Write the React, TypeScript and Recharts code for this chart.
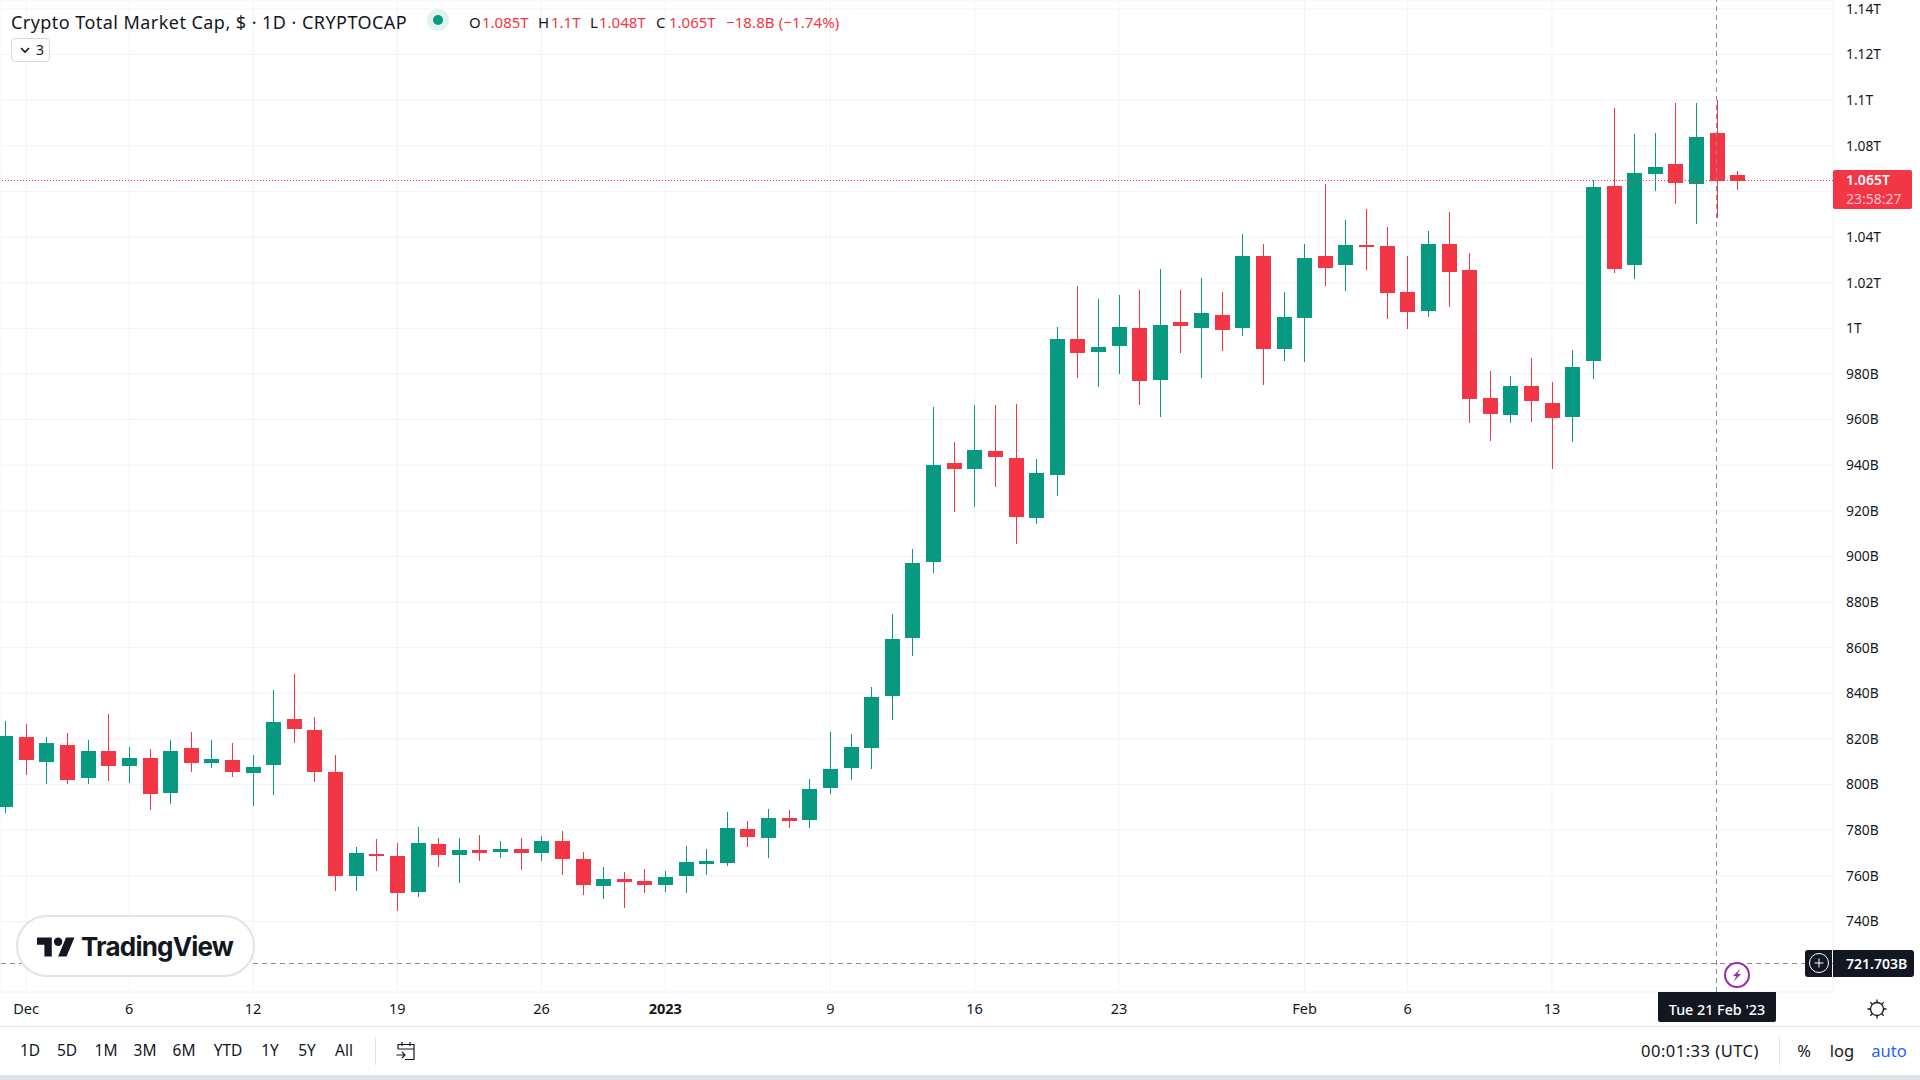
import React from "react";
import {
  Bar,
  CartesianGrid,
  ComposedChart,
  ReferenceLine,
  XAxis,
  YAxis,
} from "recharts";

// values in billions of USD, one entry per day from 30 Nov 2022 to 22 Feb 2023
const opens = [
  790.2, 820.8, 809.9, 817.3, 802.9, 814.7, 808.1, 811.6, 796.3, 816.0, 809.4, 810.8, 805.1, 808.6, 828.7,
  823.9, 805.5, 759.9, 769.6, 768.7, 752.9, 773.9, 769.1, 771.3, 770.4, 771.7, 770.0, 775.3, 767.4, 755.5,
  758.6, 757.7, 756.0, 759.9, 765.2, 765.6, 780.5, 776.6, 785.3, 784.5, 798.5, 807.3, 816.0, 838.8, 864.2,
  897.6, 940.9, 938.3, 946.2, 943.1, 916.8, 935.7, 995.3, 989.6, 992.2, 1000.1, 977.3, 1002.8, 1000.1, 1005.8,
  1000.1, 1031.7, 990.9, 1004.5, 1031.7, 1027.8, 1036.3, 1036.1, 1015.9, 1007.6, 1036.9, 1025.6, 969.5, 962.0, 974.7,
  967.3, 961.1, 985.7, 1062.4, 1027.7, 1067.6, 1072.0, 1063.2, 1085.6, 1067.2,
];
const closes = [
  821.3, 810.8, 818.2, 802.0, 814.7, 808.1, 811.6, 795.9, 814.7, 809.4, 811.2, 805.5, 807.7, 827.4, 824.4,
  805.5, 759.9, 770.0, 768.7, 752.5, 774.4, 769.1, 771.3, 770.0, 771.7, 770.0, 775.3, 767.4, 756.0, 758.6,
  757.3, 756.0, 759.5, 766.0, 766.5, 781.0, 777.0, 785.3, 784.0, 798.1, 806.8, 816.5, 838.4, 863.8, 897.1,
  940.1, 938.3, 946.7, 943.6, 917.3, 936.6, 995.3, 989.2, 991.8, 1000.6, 976.9, 1001.4, 1001.0, 1006.7, 999.3,
  1031.7, 990.9, 1005.0, 1030.8, 1026.4, 1036.5, 1035.7, 1015.6, 1007.1, 1036.9, 1024.7, 969.0, 962.4, 974.7, 968.1,
  960.7, 983.0, 1061.9, 1026.0, 1068.1, 1070.7, 1063.7, 1083.9, 1064.6, 1064.6,
];
const highs = [
  827.9, 826.5, 820.8, 822.6, 819.5, 830.9, 816.5, 815.6, 819.5, 823.0, 819.5, 818.2, 813.0, 841.4, 848.5,
  829.6, 813.0, 772.6, 776.1, 774.4, 781.4, 776.6, 776.6, 777.9, 775.3, 776.6, 777.5, 779.6, 770.4, 763.9,
  761.7, 763.0, 762.1, 773.1, 771.7, 788.0, 784.0, 789.3, 788.8, 802.4, 823.0, 822.2, 842.8, 874.8, 903.3,
  965.5, 950.2, 966.4, 966.4, 966.8, 942.7, 1000.6, 1018.5, 1012.8, 1014.6, 1016.8, 1026.0, 1016.8, 1022.1, 1015.9,
  1041.3, 1037.0, 1015.9, 1037.0, 1063.4, 1047.3, 1052.1, 1044.4, 1031.7, 1042.6, 1051.0, 1033.0, 981.3, 979.1, 987.0,
  976.5, 990.5, 1064.9, 1096.6, 1085.2, 1085.6, 1098.8, 1098.8, 1100.0, 1068.9,
];
const lows = [
  787.5, 804.2, 800.2, 800.2, 800.2, 801.6, 800.7, 788.8, 791.5, 805.5, 807.3, 803.3, 790.6, 795.4, 818.2,
  801.1, 753.3, 753.3, 762.1, 744.6, 750.7, 763.9, 756.8, 766.5, 767.8, 762.5, 766.5, 760.4, 751.6, 749.8,
  745.9, 752.5, 752.9, 752.5, 760.4, 764.3, 772.6, 767.8, 781.0, 781.0, 795.9, 802.0, 806.8, 828.3, 856.2,
  892.7, 919.5, 921.7, 930.4, 905.4, 914.2, 926.5, 978.2, 974.3, 980.0, 966.4, 961.1, 989.2, 978.2, 990.1,
  996.6, 975.1, 985.7, 985.2, 1018.5, 1016.3, 1025.6, 1004.1, 999.7, 1005.0, 1009.3, 958.5, 950.6, 958.5, 958.9,
  938.3, 950.2, 977.8, 1024.2, 1021.6, 1060.2, 1054.5, 1045.7, 1048.4, 1060.6,
];

const priceTicks = [
  740, 760, 780, 800, 820, 840, 860, 880, 900, 920, 940, 960, 980, 1000, 1020, 1040, 1060, 1080, 1100, 1120, 1140,
];
const priceLabels = [
  "740B", "760B", "780B", "800B", "820B", "840B", "860B", "880B", "900B", "920B", "940B", "960B", "980B",
  "1T", "1.02T", "1.04T", "", "1.08T", "1.1T", "1.12T", "1.14T",
];
const dayTicks = [1, 6, 12, 19, 26, 32, 40, 47, 54, 63, 68, 75];
const dayLabels = ["Dec", "6", "12", "19", "26", "2023", "9", "16", "23", "Feb", "6", "13"];
const rangeButtons = ["1D", "5D", "1M", "3M", "6M", "YTD", "1Y", "5Y", "All"];
const rangeCenters = [30, 67, 106, 145, 184, 228, 270, 307, 344];

const lastClose = 1064.8;
const crosshairDay = 83;
const crosshairPrice = 721.703;

const UP = "#089981";
const DOWN = "#F23645";
const INK = "#131722";
const FONT = "'Noto Sans', sans-serif";

const rows = opens.map((o, i) => ({
  day: i,
  body: [Math.min(o, closes[i]), Math.max(o, closes[i])],
  wick: [lows[i], highs[i]],
  up: closes[i] >= o,
}));

// bars snapped to whole pixels so bodies and wicks stay sharp like the original canvas
function Candle({ x, y, width, height, payload }: any) {
  const top = Math.round(y);
  const bottom = Math.round(y + height);
  return (
    <rect
      x={Math.round(x)}
      y={top}
      width={width}
      height={Math.max(bottom - top, 1)}
      fill={payload.up ? UP : DOWN}
    />
  );
}

// reference lines snapped to the pixel centre too, otherwise the dashes wash out
function CrispLine({ x1, y1, x2, y2, stroke, strokeDasharray }: any) {
  const snap = (v: number) => Math.floor(v) + 0.5;
  return (
    <line
      x1={x1 === x2 ? snap(x1) : x1}
      x2={x1 === x2 ? snap(x2) : x2}
      y1={y1 === y2 ? snap(y1) : y1}
      y2={y1 === y2 ? snap(y2) : y2}
      stroke={stroke}
      strokeDasharray={strokeDasharray}
    />
  );
}

function DayTick({ x, y, payload }: any) {
  const idx = dayTicks.indexOf(payload.value);
  const label = dayLabels[idx];
  return (
    <text
      x={x}
      y={y}
      textAnchor="middle"
      fontFamily={FONT}
      fontSize={14.5}
      fontWeight={label === "2023" ? 700 : 400}
      fill={INK}
    >
      {label}
    </text>
  );
}

const abs = (left: number, top: number, extra: React.CSSProperties = {}): React.CSSProperties => ({
  position: "absolute",
  left,
  top,
  fontFamily: FONT,
  whiteSpace: "nowrap",
  ...extra,
});

function Centered({ cx, cy, children, style }: { cx: number; cy: number; children: React.ReactNode; style?: React.CSSProperties }) {
  return (
    <div style={abs(cx, cy, { transform: "translate(-50%, -50%)", fontSize: 14, color: INK, ...style })}>{children}</div>
  );
}

function Legend() {
  const red = { color: DOWN, fontSize: 15, lineHeight: "20px" };
  const dark = { color: INK, fontSize: 15, lineHeight: "20px" };
  return (
    <>
      <div style={abs(11, 10, { fontSize: 18, letterSpacing: 0.45, color: INK, lineHeight: "24px" })}>
        Crypto Total Market Cap, $ · 1D · CRYPTOCAP
      </div>
      <div style={abs(427, 9, { width: 22, height: 22, borderRadius: 11, background: "#DFF2EF" })} />
      <div style={abs(433, 15, { width: 10, height: 10, borderRadius: 5, background: UP })} />
      <div style={abs(469, 12, dark)}>O</div>
      <div style={abs(482, 12, red)}>1.085T</div>
      <div style={abs(538, 12, dark)}>H</div>
      <div style={abs(551, 12, red)}>1.1T</div>
      <div style={abs(590, 12, dark)}>L</div>
      <div style={abs(599, 12, red)}>1.048T</div>
      <div style={abs(656, 12, dark)}>C</div>
      <div style={abs(669, 12, red)}>1.065T</div>
      <div style={abs(726, 12, { ...red, letterSpacing: 0.1 })}>−18.8B (−1.74%)</div>
      <div
        style={abs(11, 38, {
          width: 39,
          height: 24,
          boxSizing: "border-box",
          border: "1px solid #D6D8E0",
          borderRadius: 4,
          background: "#fff",
        })}
      />
      <svg style={abs(19, 46)} width={12} height={8}>
        <path d="M2 2l4 4 4-4" fill="none" stroke={INK} strokeWidth={1.6} />
      </svg>
      <div style={abs(36, 40, { fontSize: 14, color: INK, lineHeight: "20px" })}>3</div>
    </>
  );
}

function Logo() {
  return (
    <>
      <div
        style={abs(16, 915, {
          width: 239,
          height: 62,
          boxSizing: "border-box",
          border: "2px solid #E0E3EB",
          borderRadius: 31,
          background: "#fff",
        })}
      />
      <svg style={abs(37, 933)} width={38} height={30} viewBox="0 0 36 28">
        <path d="M14 22H7V11H0V4h14v18zM28 22h-8l7.5-18h8L28 22z" fill={INK} />
        <circle cx={20} cy={8} r={4} fill={INK} />
      </svg>
      <div style={abs(81, 929, { fontFamily: "Inter, sans-serif", fontSize: 26, fontWeight: 700, color: INK, lineHeight: "36px", letterSpacing: -0.8 })}>
        TradingView
      </div>
    </>
  );
}

function PriceTags() {
  return (
    <>
      <div style={abs(1833, 170, { width: 79, height: 39, background: DOWN, borderRadius: 2 })} />
      <div style={abs(1846, 171, { fontSize: 14, fontWeight: 600, color: "#fff", lineHeight: "18px" })}>1.065T</div>
      <div style={abs(1846, 190, { fontSize: 14, color: "#FBC4CA", lineHeight: "18px" })}>23:58:27</div>

      <div style={abs(1805, 950, { width: 27, height: 27, background: INK, borderRadius: "3px 0 0 3px" })} />
      <svg style={abs(1808, 952)} width={22} height={22}>
        <circle cx={11} cy={11} r={9.5} fill="none" stroke="#fff" strokeWidth={1} />
        <path d="M11 6.5v9M6.5 11h9" stroke="#fff" strokeWidth={1} />
      </svg>
      <div style={abs(1833, 950, { width: 81, height: 27, background: INK, borderRadius: "0 3px 3px 0" })} />
      <div style={abs(1846, 954, { fontSize: 14, fontWeight: 600, color: "#fff", lineHeight: "19px" })}>721.703B</div>

      <svg style={abs(1723, 961)} width={28} height={28}>
        <circle cx={14} cy={14} r={12} fill="#fff" stroke="#9C27B0" strokeWidth={2} />
        <path d="M17.5 7.5L10 15h3.5l-3 5.5 7.5-7.5h-3.5z" fill="#9C27B0" />
      </svg>

      <div style={abs(1658, 992, { width: 118, height: 30, background: INK, borderRadius: "0 0 2px 2px" })} />
      <Centered cx={1717} cy={1009} style={{ color: "#fff", fontSize: 14.3, fontWeight: 500 }}>
        Tue 21 Feb '23
      </Centered>

      <svg style={abs(1865, 997)} width={24} height={24}>
        <circle cx={12} cy={12} r={6.5} fill="none" stroke={INK} strokeWidth={1.3} />
        <path
          d="M12 2.5v3M12 18.5v3M2.5 12h3M18.5 12h3M5.3 5.3l2.1 2.1M16.6 16.6l2.1 2.1M5.3 18.7l2.1-2.1M16.6 7.4l2.1-2.1"
          stroke={INK}
          strokeWidth={1.3}
        />
      </svg>
    </>
  );
}

function Footer() {
  return (
    <>
      <div style={abs(0, 1026, { width: 1920, height: 1, background: "#E0E3EB" })} />
      {rangeButtons.map((b, i) => (
        <Centered key={b} cx={rangeCenters[i]} cy={1050} style={{ fontSize: 15.5 }}>
          {b}
        </Centered>
      ))}
      <div style={abs(375, 1037, { width: 1, height: 28, background: "#E0E3EB" })} />
      <svg style={abs(395, 1041)} width={22} height={20}>
        <path
          d="M3 8V3.5h16v15h-9M3 8h16M7 1v4M15 1v4M1.5 14h8M7 11l3 3-3 3"
          fill="none"
          stroke={INK}
          strokeWidth={1.2}
        />
      </svg>
      <Centered cx={1700} cy={1050} style={{ fontSize: 16.5, letterSpacing: 0.5 }}>
        00:01:33 (UTC)
      </Centered>
      <div style={abs(1779, 1037, { width: 1, height: 28, background: "#E0E3EB" })} />
      <Centered cx={1804} cy={1050} style={{ fontSize: 16.5 }}>
        %
      </Centered>
      <Centered cx={1842} cy={1050} style={{ fontSize: 16.5 }}>
        log
      </Centered>
      <Centered cx={1889} cy={1050} style={{ fontSize: 16.5, color: "#2962FF" }}>
        auto
      </Centered>
      <div style={abs(0, 1075, { width: 1920, height: 5, background: "#E0E3EB" })} />
    </>
  );
}

export default function App() {
  return (
    <div style={{ position: "absolute", left: 0, top: 0, width: 1920, height: 1080, background: "#fff", overflow: "hidden" }}>
      <ComposedChart
        width={1920}
        height={1026}
        data={rows}
        margin={{ top: 0, right: 0, bottom: 0, left: 0 }}
      >
        <CartesianGrid stroke="#F0F3FA" xAxisId="body" yAxisId="price" />
        <XAxis
          xAxisId="body"
          dataKey="day"
          type="number"
          domain={[-0.267, 88.63]}
          allowDataOverflow
          ticks={dayTicks}
          tick={<DayTick />}
          tickLine={false}
          axisLine={false}
          height={34}
          tickMargin={16}
          interval={0}
        />
        <XAxis
          xAxisId="wick"
          dataKey="day"
          type="number"
          domain={[-0.267, 88.63]}
          allowDataOverflow
          ticks={dayTicks}
          hide
        />
        <YAxis
          yAxisId="price"
          orientation="right"
          domain={[709.07, 1143.9]}
          allowDataOverflow
          ticks={priceTicks}
          tickFormatter={(v: number) => priceLabels[priceTicks.indexOf(v)] ?? ""}
          tick={{ fontFamily: FONT, fontSize: 13.8, fill: INK }}
          tickLine={false}
          axisLine={false}
          tickMargin={7}
          width={87}
          interval={0}
        />
        <ReferenceLine
          yAxisId="price"
          xAxisId="body"
          y={lastClose}
          stroke={DOWN}
          strokeDasharray="1 2"
          shape={CrispLine}
        />
        <Bar xAxisId="wick" yAxisId="price" dataKey="wick" barSize={1} shape={Candle} isAnimationActive={false} />
        <Bar xAxisId="body" yAxisId="price" dataKey="body" barSize={15} shape={Candle} isAnimationActive={false} />
        <ReferenceLine
          yAxisId="price"
          xAxisId="body"
          x={crosshairDay}
          stroke="#8A8D96"
          strokeDasharray="5 4"
          shape={CrispLine}
        />
        <ReferenceLine
          yAxisId="price"
          xAxisId="body"
          y={crosshairPrice}
          stroke="#8A8D96"
          strokeDasharray="5 4"
          shape={CrispLine}
        />
      </ComposedChart>
      <Legend />
      <Logo />
      <PriceTags />
      <Footer />
    </div>
  );
}
